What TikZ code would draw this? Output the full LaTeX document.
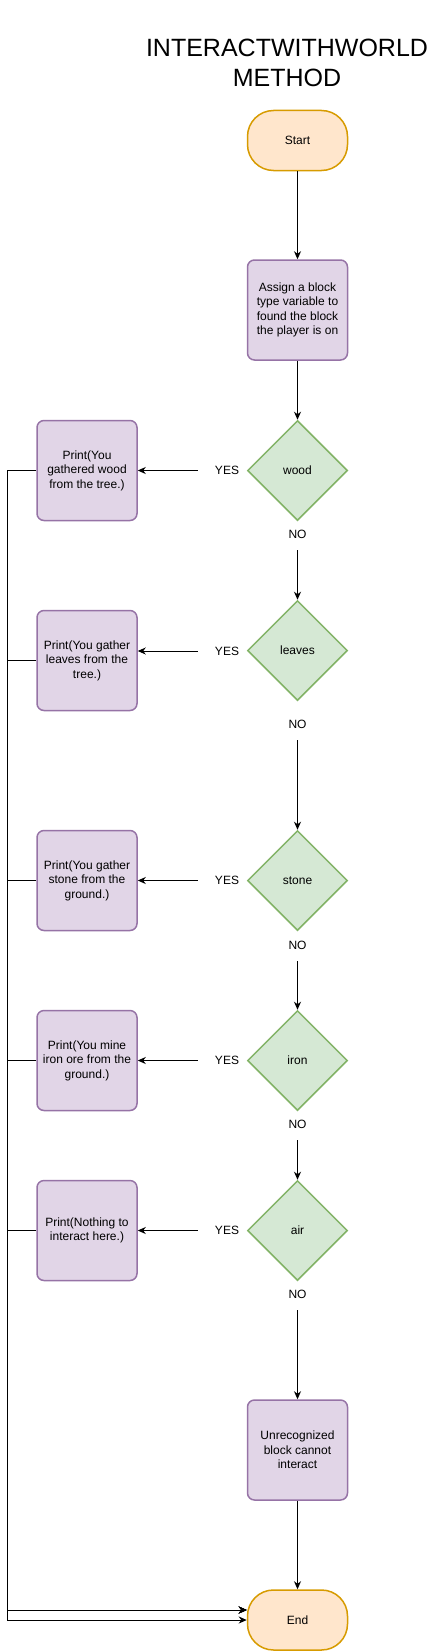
\documentclass[tikz,border=0pt]{standalone}
\usepackage{fontspec}
\setmainfont{Liberation Sans}
\usetikzlibrary{positioning, shapes.misc, shapes.geometric, arrows.meta}
\definecolor{termfill}{HTML}{FFE6CC}
\definecolor{termdraw}{HTML}{D79B00}
\definecolor{procfill}{HTML}{E1D5E7}
\definecolor{procdraw}{HTML}{9673A6}
\definecolor{decfill}{HTML}{D5E8D4}
\definecolor{decdraw}{HTML}{82B366}
\tikzset{
  terminal/.style={rectangle, rounded corners=26pt, draw=termdraw, fill=termfill, line width=1.5pt, minimum width=100pt, minimum height=60pt, align=center},
  process/.style={rectangle, rounded corners=7pt, draw=procdraw, fill=procfill, line width=1.5pt, minimum width=100pt, minimum height=100pt, inner sep=1pt, align=center},
  decision/.style={diamond, draw=decdraw, fill=decfill, line width=1.5pt, minimum width=100pt, minimum height=100pt, inner sep=0pt, align=center},
  arrow/.style={-{Stealth[length=8pt, width=7pt, inset=2.5pt]}, line width=1pt},
}

\begin{document}
\begin{tikzpicture}[x=1pt, y=-1pt, font=\fontsize{12}{14.4}\selectfont]
  \tikzset{
    yeslabel/.style={minimum width=58pt, inner sep=0pt},
    nolabel/.style={minimum height=32pt, inner sep=0pt},
  }
  \useasboundingbox (0,0) rectangle (438,1651);

  % Title
  \node[align=center, font=\fontsize{25}{30}\selectfont] (title) at (287,63) {INTERACTWITHWORLD\\METHOD};

  % Main column
  \node[terminal] (start) at (297.5,140.5) {Start};
  \node[process] (assign) at (297.5,310) {Assign a block\\type variable to\\found the block\\the player is on};
  \node[decision] (wood) at (297.5,470.5) {wood};
  \node[decision] (leaves) at (297.5,650.5) {leaves};
  \node[decision] (stone) at (297.5,880.5) {stone};
  \node[decision] (iron) at (297.5,1060.5) {iron};
  \node[decision] (air) at (297.5,1230.5) {air};
  \node[process] (unknown) at (297.5,1450) {Unrecognized\\block cannot\\interact};
  \node[terminal] (stop) at (297.5,1620) {End};

  % Print boxes
  \node[process, left=109pt of wood] (pwood) {Print(You\\gathered wood\\from the tree.)};
  \node[process, left=109pt of leaves, yshift=-10pt] (pleaves) {Print(You gather\\leaves from the\\tree.)};
  \node[process, left=109pt of stone] (pstone) {Print(You gather\\stone from the\\ground.)};
  \node[process, left=109pt of iron] (piron) {Print(You mine\\iron ore from the\\ground.)};
  \node[process, left=109pt of air] (pair) {Print(Nothing to\\interact here.)};

  % Labels
  \node[yeslabel] (ywood) at (227,470.5) {YES};
  \node[yeslabel] (yleaves) at (227,651) {YES};
  \node[yeslabel] (ystone) at (227,880.5) {YES};
  \node[yeslabel] (yiron) at (227,1060.5) {YES};
  \node[yeslabel] (yair) at (227,1230.5) {YES};
  \node[nolabel] (nwood) at (297.5,534) {NO};
  \node[nolabel] (nleaves) at (297.5,724) {NO};
  \node[nolabel] (nstone) at (297.5,945) {NO};
  \node[nolabel] (niron) at (297.5,1124) {NO};
  \node[nolabel] (nair) at (297.5,1294) {NO};

  \coordinate (rail) at (7,0);
  \coordinate[above=10pt of stop.west] (stopin);

  % Main flow
  \draw[arrow] (start) -- (assign);
  \draw[arrow] (assign) -- (wood);
  \draw[arrow] (nwood.south) -- (leaves.north);
  \draw[arrow] (nleaves.south) -- (stone.north);
  \draw[arrow] (nstone.south) -- (iron.north);
  \draw[arrow] (niron.south) -- (air.north);
  \draw[arrow] (nair.south) -- (unknown.north);
  \draw[arrow] (unknown) -- (stop);

  % YES branches
  \draw[arrow] (ywood.west) -- (ywood.west -| pwood.east);
  \draw[arrow] (yleaves.west) -- (yleaves.west -| pleaves.east);
  \draw[arrow] (ystone.west) -- (ystone.west -| pstone.east);
  \draw[arrow] (yiron.west) -- (yiron.west -| piron.east);
  \draw[arrow] (yair.west) -- (yair.west -| pair.east);

  % Back to End
  \draw[arrow] (pwood.west) -- (pwood.west -| rail) |- (stop.west);
  \foreach \b in {pleaves, pstone, piron, pair}
    \draw[arrow] (\b.west) -- (\b.west -| rail) |- (stopin);

\end{tikzpicture}
\end{document}
